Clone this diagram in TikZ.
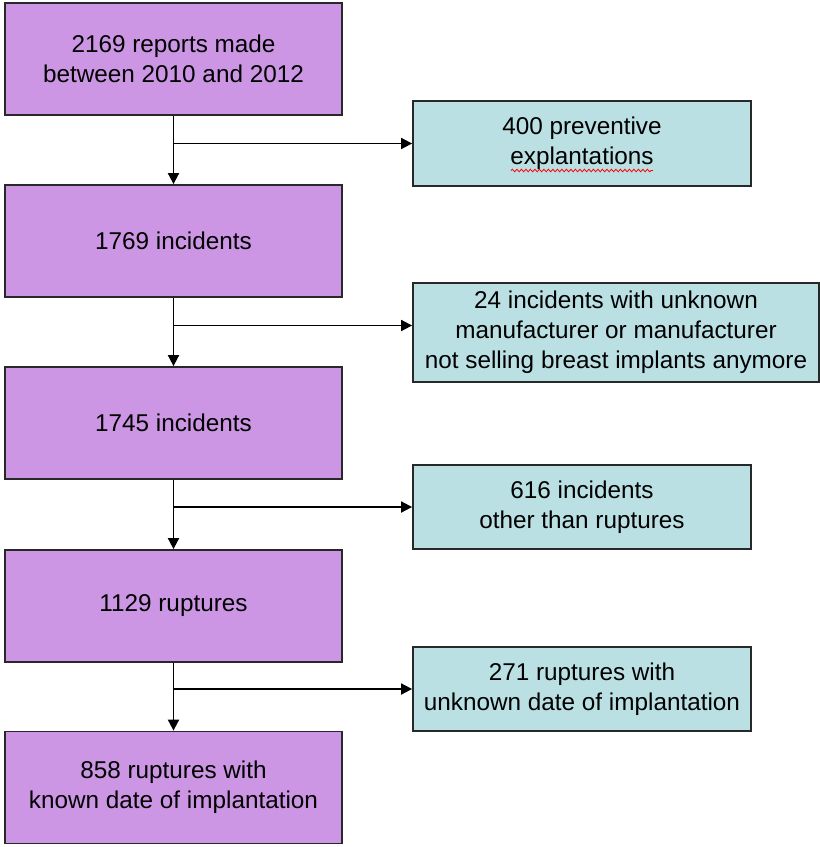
\documentclass[tikz,border=0pt]{standalone}
\usepackage{fontspec}
\setmainfont{Liberation Sans}
\usetikzlibrary{arrows.meta,decorations.pathmorphing}

\definecolor{mauve}{RGB}{204,150,228}
\definecolor{turquoise}{RGB}{186,224,228}
\definecolor{bord}{RGB}{40,40,40}

\begin{document}
\def\xg{173.5}
\def\xd{582}

\begin{tikzpicture}[x=1pt,y=-1pt]
\tikzstyle{etape}=[draw=bord,line width=1.8pt,fill=mauve,minimum width=337pt,minimum height=112pt,inner sep=0pt,align=center,font=\fontsize{24.3}{30}\selectfont]
\tikzstyle{exclu}=[etape,fill=turquoise,minimum width=338pt,minimum height=84pt]
\tikzstyle{arc}=[-{Triangle[length=11pt,width=11pt]},line width=1.8pt]

\useasboundingbox (0,0) rectangle (820,847);

% colonne de gauche
\node[etape] (n1) at (\xg,59) {2169 reports made\\between 2010 and 2012};
\node[etape] (n2) at (\xg,241) {1769 incidents};
\node[etape] (n3) at (\xg,423) {1745 incidents};
\node[etape] (n4) at (\xg,606) {1129 ruptures};
\node[etape] (n5) at (\xg,787.5) {858 ruptures with\\known date of implantation};

% exclusions
\node[exclu,minimum height=85pt] (e1) at (\xd,143.5) {400 preventive\\explantations};
\node[exclu,minimum width=406pt,minimum height=99pt] (e2) at (616,332.5) {24 incidents with unknown\\manufacturer or manufacturer\\not selling breast implants anymore};
\node[exclu] (e3) at (\xd,507) {616 incidents\\other than ruptures};
\node[exclu] (e4) at (\xd,689) {271 ruptures with\\unknown date of implantation};

\draw[red,line width=0.8pt,decorate,decoration={snake,amplitude=1.3pt,segment length=4.5pt}] ([shift={(-71,27)}]e1.center) -- ([shift={(71,27)}]e1.center);

\draw[arc] (n1) -- (n2);
\draw[arc] (n2) -- (n3);
\draw[arc] (n3) -- (n4);
\draw[arc] (n4) -- (n5);

\coordinate (f2) at ([yshift=7pt]e2.west);
\draw[arc] (n1.south |- e1.west) -- (e1.west);
\draw[arc] (n2.south |- f2) -- (f2);
\draw[arc] (n3.south |- e3.west) -- (e3.west);
\draw[arc] (n4.south |- e4.west) -- (e4.west);

\end{tikzpicture}
\end{document}
